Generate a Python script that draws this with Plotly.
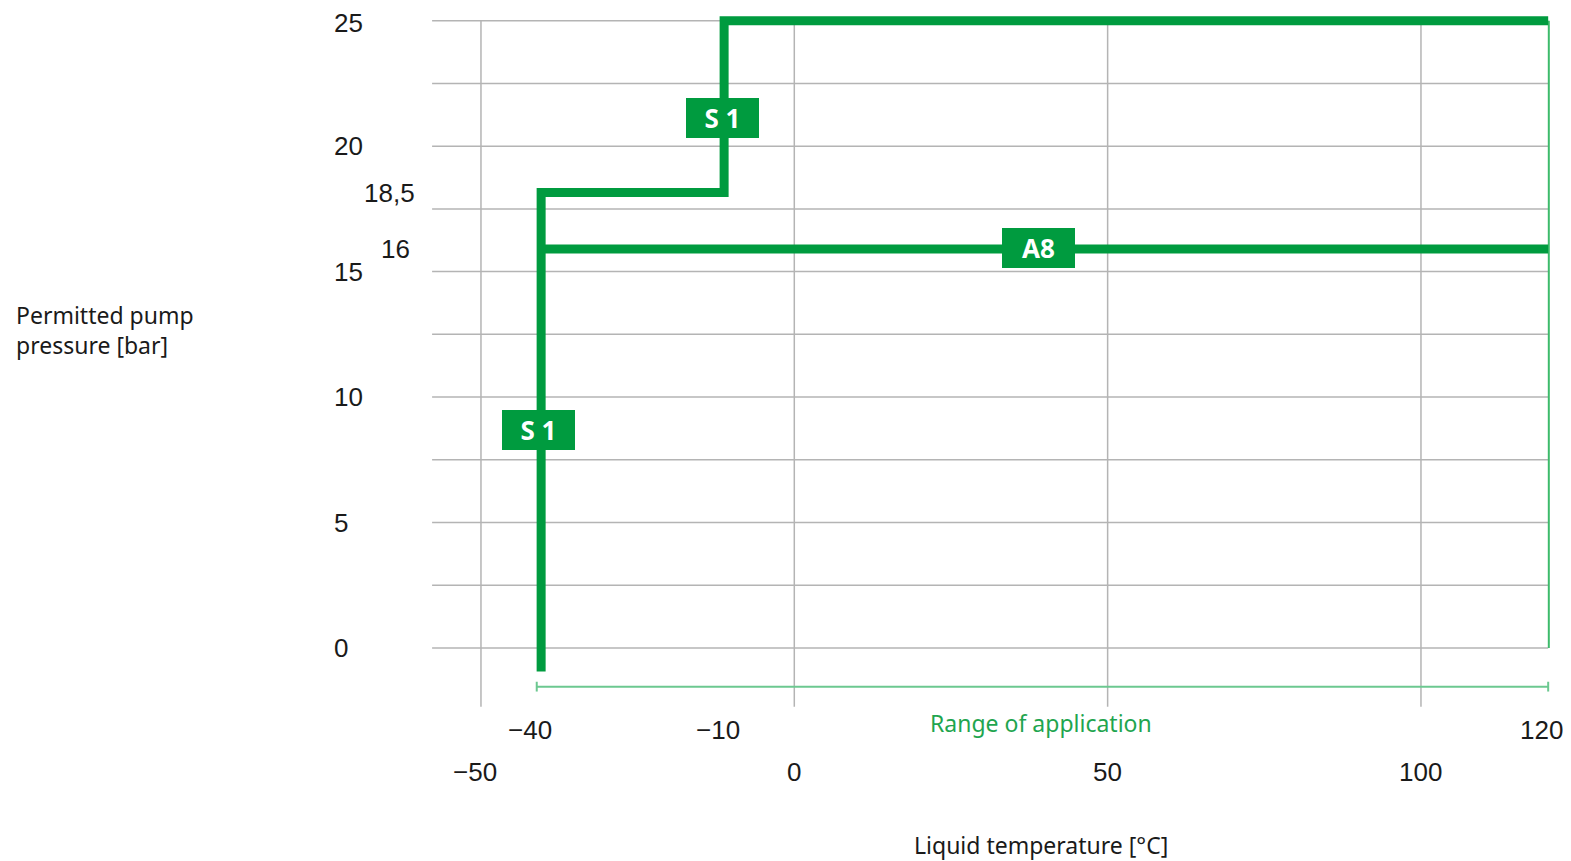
import plotly.graph_objects as go

# ---- data ----
s1_x = [-40.4, -40.4, -11.2, -11.2, 120.3]
s1_y = [-0.94, 18.15, 18.15, 25.0, 25.0]
a8_x = [-40.4, 120.3]
a8_y = [15.9, 15.9]
range_x = [-41.1, 120.3]
range_y = [-1.54, -1.54]
edge_x = [120.4, 120.4]
edge_y = [0.0, 25.0]

x_grid = [-50, 0, 50, 100]
x_tick_labels = ["\u221250", "0", "50", "100"]
y_grid = [0, 2.5, 5, 7.5, 10, 12.5, 15, 17.5, 20, 22.5, 25]
y_ticks = [0, 5, 10, 15, 20, 25]
y_tick_labels = ["0", "5", "10", "15", "20", "25"]
special_x = [-42.2, -12.1, 120.2]
special_x_labels = ["\u221240", "\u221210", "120"]
special_y = [18.15, 15.9]
special_y_labels = ["18,5", "16"]

box_labels = ["S 1", "S 1", "A8"]
box_x = [-11.5, -40.8, 38.9]
box_y = [21.14, 8.68, 15.93]

GREEN = "#009B3F"
GRID = "#b4b4b4"
FONT = "Noto Sans"
NUMFONT = "Liberation Sans"
TXT = "#1a1a1a"

# ---- pixel mapping (page has an 8px body margin) ----
OFF = 8
FW, FH = 1571 - 2 * OFF, 861 - OFF
X0PX, PXU = 794.3, 940 / 150.0      # screen px of x=0, px per unit
Y0PX, PYU = 648.0, 627.3 / 25.0     # screen px of y=0, px per unit
x_lo = (OFF - X0PX) / PXU
x_hi = (OFF + FW - X0PX) / PXU
y_hi = (Y0PX - OFF) / PYU
y_lo = (Y0PX - OFF - FH) / PYU


def sx(px):
    return (px - X0PX) / PXU


def sy(py):
    return (Y0PX - py) / PYU


fig = go.Figure()

# grid lines
gx, gy = [], []
for yv in y_grid:
    gx += [-57.8, 120.3, None]
    gy += [yv, yv, None]
for xv in x_grid:
    gx += [xv, xv, None]
    gy += [-2.34, 25, None]
fig.add_trace(go.Scatter(x=gx, y=gy, mode="lines", line=dict(color=GRID, width=1.5),
                         hoverinfo="skip", showlegend=False))

fig.add_trace(go.Scatter(x=edge_x, y=edge_y, mode="lines", line=dict(color="#3dbb6b", width=2),
                         showlegend=False))
fig.add_trace(go.Scatter(x=range_x, y=range_y, mode="lines+markers",
                         line=dict(color="#6cc890", width=2),
                         marker=dict(symbol="line-ns-open", size=7, line=dict(color="#3dbb6b", width=2)),
                         showlegend=False))
fig.add_trace(go.Scatter(x=a8_x, y=a8_y, mode="lines", line=dict(color=GREEN, width=9),
                         name="A8", showlegend=False))
fig.add_trace(go.Scatter(x=s1_x, y=s1_y, mode="lines", line=dict(color=GREEN, width=9),
                         name="S1", showlegend=False))

ann = []
for t, xv, yv in zip(box_labels, box_x, box_y):
    ann.append(dict(x=xv, y=yv, text="<b>%s</b>" % t, showarrow=False,
                    font=dict(family=FONT, size=26, color="white"), bgcolor=GREEN,
                    width=73, height=40, borderpad=0, borderwidth=0))

for t, yv in zip(y_tick_labels, y_ticks):
    # keep the top label fully inside the page
    ydraw = min(yv, sy(23))
    ann.append(dict(x=sx(332), y=ydraw, text=t, showarrow=False,
                    xanchor="left", yanchor="middle",
                    font=dict(family=NUMFONT, size=26, color=TXT)))
for t, yv, px in zip(special_y_labels, special_y, [417, 412]):
    ann.append(dict(x=sx(px), y=yv, text=t, showarrow=False, xanchor="right", yanchor="middle",
                    font=dict(family=NUMFONT, size=26, color=TXT)))
for t, xv in zip(x_tick_labels, x_grid):
    shift = -1.0 if t.startswith("\u2212") else 0.0
    ann.append(dict(x=xv + shift, y=sy(772), text=t, showarrow=False, xanchor="center",
                    yanchor="middle", font=dict(family=NUMFONT, size=26, color=TXT)))
for t, xv in zip(special_x_labels, special_x):
    ann.append(dict(x=min(xv, sx(1541)), y=sy(730), text=t, showarrow=False, xanchor="center",
                    yanchor="middle", font=dict(family=NUMFONT, size=26, color=TXT)))

ann.append(dict(x=sx(1041), y=sy(723), text="Range of application",
                showarrow=False, font=dict(family=FONT, size=23, color="#1fa54f")))
ann.append(dict(x=sx(1041), y=sy(845), text="Liquid temperature [°C]",
                showarrow=False, font=dict(family=FONT, size=23, color=TXT)))
ann.append(dict(x=sx(14), y=sy(330), text="Permitted pump<br>pressure [bar]", align="left",
                xanchor="left", showarrow=False, font=dict(family=FONT, size=23, color=TXT)))

fig.update_layout(
    width=FW, height=FH, margin=dict(l=0, r=0, t=0, b=0, pad=0),
    paper_bgcolor="white", plot_bgcolor="white",
    xaxis=dict(range=[x_lo, x_hi], visible=False, fixedrange=True),
    yaxis=dict(range=[y_lo, y_hi], visible=False, fixedrange=True),
    annotations=ann, showlegend=False,
)

fig.write_html("out.html")
